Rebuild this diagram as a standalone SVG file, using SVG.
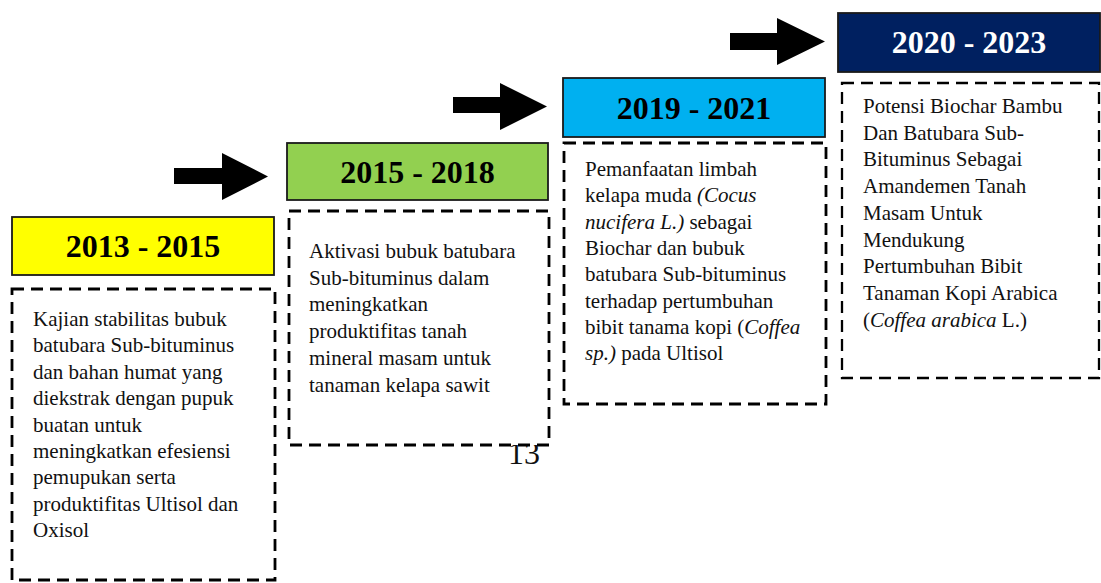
<svg xmlns="http://www.w3.org/2000/svg" width="1101" height="583" viewBox="0 0 1101 583">
<style>
.hdr{stroke:#1a1a1a;stroke-width:1.8}
.dash{fill:#fff;stroke:#000;stroke-width:2.8;stroke-dasharray:12 7}
.ht{font-family:"Liberation Serif","Times New Roman",serif;font-size:32px;font-weight:bold;text-anchor:middle}
.bt{font-family:"Liberation Serif","Times New Roman",serif;font-size:21px;fill:#111}
.arr{fill:#000}
</style>
<rect width="1101" height="583" fill="#fff"/>
<text x="508" y="464" class="bt" style="font-size:32px">13</text>
<g id="connectors">
<polygon class="arr" points="174,168 222,168 222,153 268,176.5 222,200 222,184 174,184"/>
<polygon class="arr" points="453,97 500,97 500,83 547,106.5 500,130 500,113 453,113"/>
<polygon class="arr" points="730,33 777,33 777,18 825,41.5 777,65 777,50 730,50"/>
</g>
<g id="node-2013">
<rect class="hdr" x="12" y="217" width="262" height="58" fill="#FFFF00"/>
<text class="ht" x="143" y="257">2013 - 2015</text>
<rect class="dash" x="12" y="289" width="263" height="291"/>
<text class="bt" x="33" y="326"><tspan x="33">Kajian stabilitas bubuk</tspan><tspan x="33" dy="26.4">batubara Sub-bituminus</tspan><tspan x="33" dy="26.4">dan bahan humat yang</tspan><tspan x="33" dy="26.4">diekstrak dengan pupuk</tspan><tspan x="33" dy="26.4">buatan untuk</tspan><tspan x="33" dy="26.4">meningkatkan efesiensi</tspan><tspan x="33" dy="26.4">pemupukan serta</tspan><tspan x="33" dy="26.4">produktifitas Ultisol dan</tspan><tspan x="33" dy="26.4">Oxisol</tspan></text>
</g>
<g id="node-2015">
<rect class="hdr" x="287" y="143" width="261" height="57" fill="#92D050"/>
<text class="ht" x="417.5" y="183">2015 - 2018</text>
<rect class="dash" x="289" y="211" width="260" height="234"/>
<text class="bt" x="309" y="258"><tspan x="309">Aktivasi bubuk batubara</tspan><tspan x="309" dy="26.7">Sub-bituminus dalam</tspan><tspan x="309" dy="26.7">meningkatkan</tspan><tspan x="309" dy="26.7">produktifitas tanah</tspan><tspan x="309" dy="26.7">mineral masam untuk</tspan><tspan x="309" dy="26.7">tanaman kelapa sawit</tspan></text>
</g>
<g id="node-2019">
<rect class="hdr" x="563" y="78" width="262" height="59" fill="#00B0F0"/>
<text class="ht" x="694" y="119">2019 - 2021</text>
<rect class="dash" x="564" y="143" width="262" height="261"/>
<text class="bt" x="585" y="176"><tspan x="585">Pemanfaatan limbah</tspan><tspan x="585" dy="26.3">kelapa muda <tspan font-style="italic">(Cocus</tspan></tspan><tspan x="585" dy="26.3" font-style="italic">nucifera L.)</tspan><tspan> sebagai</tspan><tspan x="585" dy="26.3">Biochar dan bubuk</tspan><tspan x="585" dy="26.3">batubara Sub-bituminus</tspan><tspan x="585" dy="26.3">terhadap pertumbuhan</tspan><tspan x="585" dy="26.3">bibit tanama kopi (<tspan font-style="italic">Coffea</tspan></tspan><tspan x="585" dy="26.3" font-style="italic">sp.)</tspan><tspan> pada Ultisol</tspan></text>
</g>
<g id="node-2020">
<rect class="hdr" x="838" y="13" width="262" height="59" fill="#002060"/>
<text class="ht" x="969" y="53" fill="#fff">2020 - 2023</text>
<rect class="dash" x="842" y="83" width="257" height="295" style="stroke-width:2.3"/>
<text class="bt" x="863" y="113"><tspan x="863">Potensi Biochar Bambu</tspan><tspan x="863" dy="26.7">Dan Batubara Sub-</tspan><tspan x="863" dy="26.7">Bituminus Sebagai</tspan><tspan x="863" dy="26.7">Amandemen Tanah</tspan><tspan x="863" dy="26.7">Masam Untuk</tspan><tspan x="863" dy="26.7">Mendukung</tspan><tspan x="863" dy="26.7">Pertumbuhan Bibit</tspan><tspan x="863" dy="26.7">Tanaman Kopi Arabica</tspan><tspan x="863" dy="26.7">(<tspan font-style="italic">Coffea  arabica</tspan> L.)</tspan></text>
</g>
</svg>
